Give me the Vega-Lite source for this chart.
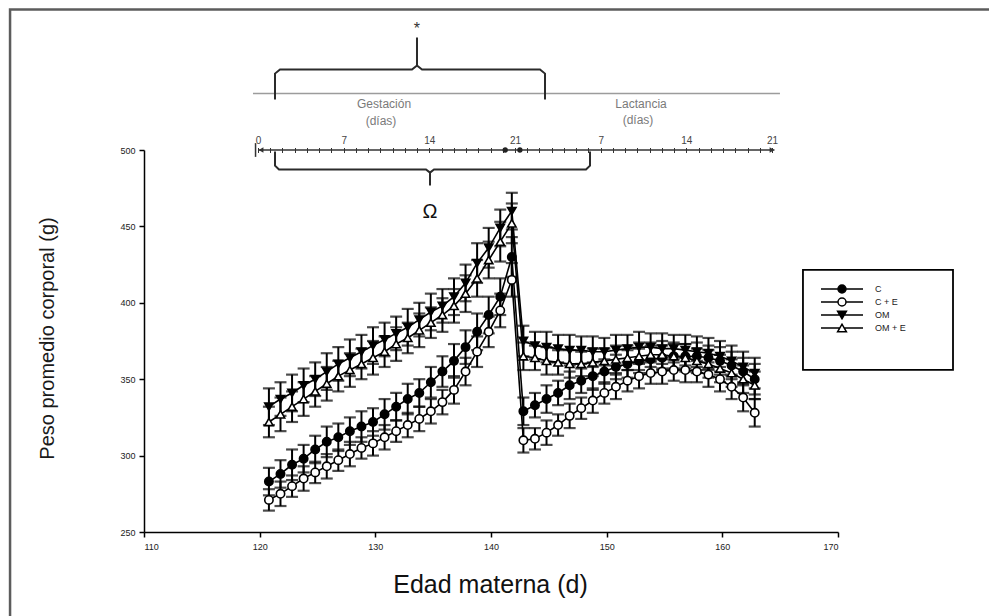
{
  "$schema": "https://vega.github.io/schema/vega-lite/v6.json",
  "autosize": {"type": "none"},
  "width": 694,
  "height": 382,
  "padding": {"left": 144, "top": 150, "right": 151, "bottom": 84},
  "background": "white",
  "config": {
    "view": {"stroke": null},
    "font": "Liberation Sans",
    "axis": {"grid": false}
  },
  "datasets": {
    "weights": [
      {"g":"C","t":120.8,"w":283,"e":9},{"g":"C","t":121.8,"w":288,"e":9},{"g":"C","t":122.8,"w":294,"e":10},{"g":"C","t":123.8,"w":298,"e":9},
      {"g":"C","t":124.8,"w":304,"e":9},{"g":"C","t":125.8,"w":309,"e":10},{"g":"C","t":126.8,"w":312,"e":9},{"g":"C","t":127.8,"w":316,"e":9},
      {"g":"C","t":128.8,"w":319,"e":10},{"g":"C","t":129.8,"w":322,"e":9},{"g":"C","t":130.8,"w":327,"e":10},{"g":"C","t":131.8,"w":332,"e":9},
      {"g":"C","t":132.8,"w":337,"e":10},{"g":"C","t":133.8,"w":341,"e":9},{"g":"C","t":134.8,"w":348,"e":10},{"g":"C","t":135.8,"w":355,"e":10},
      {"g":"C","t":136.8,"w":362,"e":11},{"g":"C","t":137.8,"w":371,"e":11},{"g":"C","t":138.8,"w":381,"e":12},{"g":"C","t":139.8,"w":392,"e":12},
      {"g":"C","t":140.8,"w":404,"e":12},{"g":"C","t":141.8,"w":430,"e":13},
      {"g":"C","t":142.8,"w":329,"e":9},{"g":"C","t":143.8,"w":333,"e":8},{"g":"C","t":144.8,"w":337,"e":9},{"g":"C","t":145.8,"w":341,"e":8},
      {"g":"C","t":146.8,"w":346,"e":9},{"g":"C","t":147.8,"w":349,"e":8},{"g":"C","t":148.8,"w":352,"e":9},{"g":"C","t":149.8,"w":355,"e":8},
      {"g":"C","t":150.8,"w":358,"e":8},{"g":"C","t":151.8,"w":360,"e":9},{"g":"C","t":152.8,"w":362,"e":8},{"g":"C","t":153.8,"w":363,"e":9},
      {"g":"C","t":154.8,"w":364,"e":8},{"g":"C","t":155.8,"w":365,"e":9},{"g":"C","t":156.8,"w":365,"e":8},{"g":"C","t":157.8,"w":365,"e":9},
      {"g":"C","t":158.8,"w":364,"e":8},{"g":"C","t":159.8,"w":362,"e":9},{"g":"C","t":160.8,"w":359,"e":9},{"g":"C","t":161.8,"w":355,"e":9},
      {"g":"C","t":162.8,"w":350,"e":10},

      {"g":"C + E","t":120.8,"w":271,"e":7},{"g":"C + E","t":121.8,"w":275,"e":8},{"g":"C + E","t":122.8,"w":280,"e":7},{"g":"C + E","t":123.8,"w":285,"e":8},
      {"g":"C + E","t":124.8,"w":289,"e":7},{"g":"C + E","t":125.8,"w":293,"e":8},{"g":"C + E","t":126.8,"w":297,"e":7},{"g":"C + E","t":127.8,"w":301,"e":8},
      {"g":"C + E","t":128.8,"w":305,"e":7},{"g":"C + E","t":129.8,"w":308,"e":8},{"g":"C + E","t":130.8,"w":312,"e":8},{"g":"C + E","t":131.8,"w":316,"e":7},
      {"g":"C + E","t":132.8,"w":320,"e":8},{"g":"C + E","t":133.8,"w":324,"e":8},{"g":"C + E","t":134.8,"w":329,"e":8},{"g":"C + E","t":135.8,"w":335,"e":8},
      {"g":"C + E","t":136.8,"w":343,"e":9},{"g":"C + E","t":137.8,"w":355,"e":9},{"g":"C + E","t":138.8,"w":368,"e":10},{"g":"C + E","t":139.8,"w":381,"e":10},
      {"g":"C + E","t":140.8,"w":395,"e":11},{"g":"C + E","t":141.8,"w":415,"e":11},
      {"g":"C + E","t":142.8,"w":310,"e":8},{"g":"C + E","t":143.8,"w":311,"e":7},{"g":"C + E","t":144.8,"w":315,"e":8},{"g":"C + E","t":145.8,"w":320,"e":7},
      {"g":"C + E","t":146.8,"w":326,"e":8},{"g":"C + E","t":147.8,"w":331,"e":7},{"g":"C + E","t":148.8,"w":336,"e":8},{"g":"C + E","t":149.8,"w":341,"e":7},
      {"g":"C + E","t":150.8,"w":345,"e":8},{"g":"C + E","t":151.8,"w":349,"e":7},{"g":"C + E","t":152.8,"w":352,"e":8},{"g":"C + E","t":153.8,"w":354,"e":7},
      {"g":"C + E","t":154.8,"w":355,"e":8},{"g":"C + E","t":155.8,"w":356,"e":7},{"g":"C + E","t":156.8,"w":356,"e":8},{"g":"C + E","t":157.8,"w":355,"e":7},
      {"g":"C + E","t":158.8,"w":353,"e":8},{"g":"C + E","t":159.8,"w":350,"e":8},{"g":"C + E","t":160.8,"w":345,"e":8},{"g":"C + E","t":161.8,"w":338,"e":9},
      {"g":"C + E","t":162.8,"w":328,"e":9},

      {"g":"OM","t":120.8,"w":332,"e":12},{"g":"OM","t":121.8,"w":337,"e":11},{"g":"OM","t":122.8,"w":341,"e":12},{"g":"OM","t":123.8,"w":346,"e":11},
      {"g":"OM","t":124.8,"w":350,"e":11},{"g":"OM","t":125.8,"w":355,"e":12},{"g":"OM","t":126.8,"w":360,"e":11},{"g":"OM","t":127.8,"w":364,"e":12},
      {"g":"OM","t":128.8,"w":368,"e":11},{"g":"OM","t":129.8,"w":372,"e":12},{"g":"OM","t":130.8,"w":376,"e":11},{"g":"OM","t":131.8,"w":380,"e":11},
      {"g":"OM","t":132.8,"w":384,"e":12},{"g":"OM","t":133.8,"w":389,"e":11},{"g":"OM","t":134.8,"w":394,"e":12},{"g":"OM","t":135.8,"w":398,"e":11},
      {"g":"OM","t":136.8,"w":404,"e":12},{"g":"OM","t":137.8,"w":413,"e":12},{"g":"OM","t":138.8,"w":426,"e":13},{"g":"OM","t":139.8,"w":436,"e":13},
      {"g":"OM","t":140.8,"w":449,"e":12},{"g":"OM","t":141.8,"w":460,"e":12},
      {"g":"OM","t":142.8,"w":375,"e":10},{"g":"OM","t":143.8,"w":372,"e":9},{"g":"OM","t":144.8,"w":371,"e":10},{"g":"OM","t":145.8,"w":370,"e":9},
      {"g":"OM","t":146.8,"w":369,"e":10},{"g":"OM","t":147.8,"w":369,"e":9},{"g":"OM","t":148.8,"w":368,"e":10},{"g":"OM","t":149.8,"w":368,"e":9},
      {"g":"OM","t":150.8,"w":369,"e":10},{"g":"OM","t":151.8,"w":370,"e":9},{"g":"OM","t":152.8,"w":371,"e":10},{"g":"OM","t":153.8,"w":371,"e":9},
      {"g":"OM","t":154.8,"w":370,"e":10},{"g":"OM","t":155.8,"w":370,"e":9},{"g":"OM","t":156.8,"w":369,"e":10},{"g":"OM","t":157.8,"w":368,"e":10},
      {"g":"OM","t":158.8,"w":367,"e":10},{"g":"OM","t":159.8,"w":365,"e":10},{"g":"OM","t":160.8,"w":362,"e":10},{"g":"OM","t":161.8,"w":358,"e":10},
      {"g":"OM","t":162.8,"w":354,"e":10},

      {"g":"OM + E","t":120.8,"w":322,"e":10},{"g":"OM + E","t":121.8,"w":327,"e":11},{"g":"OM + E","t":122.8,"w":332,"e":10},{"g":"OM + E","t":123.8,"w":337,"e":11},
      {"g":"OM + E","t":124.8,"w":342,"e":10},{"g":"OM + E","t":125.8,"w":347,"e":11},{"g":"OM + E","t":126.8,"w":352,"e":10},{"g":"OM + E","t":127.8,"w":356,"e":11},
      {"g":"OM + E","t":128.8,"w":360,"e":10},{"g":"OM + E","t":129.8,"w":364,"e":11},{"g":"OM + E","t":130.8,"w":368,"e":10},{"g":"OM + E","t":131.8,"w":373,"e":11},
      {"g":"OM + E","t":132.8,"w":377,"e":10},{"g":"OM + E","t":133.8,"w":382,"e":11},{"g":"OM + E","t":134.8,"w":387,"e":10},{"g":"OM + E","t":135.8,"w":392,"e":11},
      {"g":"OM + E","t":136.8,"w":398,"e":11},{"g":"OM + E","t":137.8,"w":406,"e":12},{"g":"OM + E","t":138.8,"w":416,"e":12},{"g":"OM + E","t":139.8,"w":428,"e":12},
      {"g":"OM + E","t":140.8,"w":440,"e":13},{"g":"OM + E","t":141.8,"w":452,"e":13},
      {"g":"OM + E","t":142.8,"w":365,"e":9},{"g":"OM + E","t":143.8,"w":364,"e":8},{"g":"OM + E","t":144.8,"w":362,"e":9},{"g":"OM + E","t":145.8,"w":361,"e":8},
      {"g":"OM + E","t":146.8,"w":360,"e":9},{"g":"OM + E","t":147.8,"w":360,"e":8},{"g":"OM + E","t":148.8,"w":361,"e":9},{"g":"OM + E","t":149.8,"w":362,"e":8},
      {"g":"OM + E","t":150.8,"w":363,"e":9},{"g":"OM + E","t":151.8,"w":364,"e":8},{"g":"OM + E","t":152.8,"w":365,"e":9},{"g":"OM + E","t":153.8,"w":366,"e":8},
      {"g":"OM + E","t":154.8,"w":366,"e":9},{"g":"OM + E","t":155.8,"w":365,"e":8},{"g":"OM + E","t":156.8,"w":364,"e":9},{"g":"OM + E","t":157.8,"w":362,"e":8},
      {"g":"OM + E","t":158.8,"w":360,"e":9},{"g":"OM + E","t":159.8,"w":357,"e":9},{"g":"OM + E","t":160.8,"w":354,"e":9},{"g":"OM + E","t":161.8,"w":350,"e":9},
      {"g":"OM + E","t":162.8,"w":346,"e":9}
    ],
    "braces": [
      {"b":"top","k":0,"a":1.389,"y":533.0},{"b":"top","k":1,"a":1.389,"y":550.0},{"b":"top","k":2,"a":1.798,"y":552.7},
      {"b":"top","k":3,"a":12.584,"y":552.7},{"b":"top","k":4,"a":12.992,"y":555.3},{"b":"top","k":5,"a":12.992,"y":573.6},
      {"b":"top","k":6,"a":12.992,"y":555.3},{"b":"top","k":7,"a":13.401,"y":552.7},{"b":"top","k":8,"a":23.043,"y":552.7},
      {"b":"top","k":9,"a":23.452,"y":550.0},{"b":"top","k":10,"a":23.452,"y":533.0},
      {"b":"bottom","k":0,"a":1.389,"y":499.0},{"b":"bottom","k":1,"a":1.389,"y":489.8},{"b":"bottom","k":2,"a":1.716,"y":487.2},
      {"b":"bottom","k":3,"a":13.728,"y":487.2},{"b":"bottom","k":4,"a":14.055,"y":485.2},{"b":"bottom","k":5,"a":14.055,"y":476.7},
      {"b":"bottom","k":6,"a":14.055,"y":485.2},{"b":"bottom","k":7,"a":14.381,"y":487.2},{"b":"bottom","k":8,"a":26.802,"y":487.2},
      {"b":"bottom","k":9,"a":27.129,"y":489.8},{"b":"bottom","k":10,"a":27.129,"y":499.0}
    ]
  },
  "resolve": {"scale": {"x": "independent"}},
  "layer": [
    {
      "encoding": {
        "x": {
          "field": "a", "type": "quantitative",
          "scale": {"domain": [-9.315, 47.393], "nice": false, "zero": false},
          "axis": {
            "orient": "top", "title": null, "domain": false,
            "values": [0,1,2,3,4,5,6,7,8,9,10,11,12,13,14,15,16,17,18,19,20,21,22,23,24,25,26,27,28,29,30,31,32,33,34,35,36,37,38,39,40,41,42],
            "tickSize": 5, "tickColor": "#333333", "tickWidth": 1, "offset": -2.5,
            "labelExpr": "datum.value % 7 == 0 ? '' + (datum.value > 21 ? datum.value - 21 : datum.value) : ''",
            "labelFontSize": 10, "labelColor": "#444444", "labelPadding": 2,
            "labelOverlap": false, "labelFlush": false, "labelBound": false
          }
        },
        "y": {"field": "y", "type": "quantitative", "scale": {"domain": [250, 500], "nice": false, "zero": false}}
      },
      "layer": [
        {
          "data": {"values": [{"a": -20.26, "a2": 62, "y": 592, "y2": 185}]},
          "mark": {"type": "rect", "filled": false, "stroke": "#5c5c5c", "strokeWidth": 2.5},
          "encoding": {"x2": {"field": "a2"}, "y2": {"field": "y2"}}
        },
        {
          "data": {"values": [{"a": 44.53, "a2": 56.79, "y": 421.6, "y2": 356.1}]},
          "mark": {"type": "rect", "fill": "white", "stroke": "black", "strokeWidth": 1.8},
          "encoding": {"x2": {"field": "a2"}, "y2": {"field": "y2"}}
        },
        {
          "data": {"values": [{"a": -0.41, "a2": 42.65, "y": 537}]},
          "mark": {"type": "rule", "color": "#9c9c9c", "strokeWidth": 1.5},
          "encoding": {"x2": {"field": "a2"}}
        },
        {
          "data": {"values": [{"a": 0, "a2": 42.2, "y": 500}]},
          "mark": {"type": "rule", "color": "#333333", "strokeWidth": 1.5},
          "encoding": {"x2": {"field": "a2"}}
        },
        {
          "data": {"values": [{"a": -0.2, "y": 495.5, "y2": 504.5}]},
          "mark": {"type": "rule", "color": "#333333", "strokeWidth": 1.5},
          "encoding": {"y2": {"field": "y2"}}
        },
        {
          "data": {"values": [{"a": 0.25, "y": 500}]},
          "mark": {"type": "point", "shape": "triangle-left", "filled": true, "color": "#333333", "size": 30, "opacity": 1},
          "encoding": {}
        },
        {
          "data": {"values": [{"a": 42.0, "y": 500}]},
          "mark": {"type": "point", "shape": "triangle-right", "filled": true, "color": "#333333", "size": 30, "opacity": 1},
          "encoding": {}
        },
        {
          "data": {"values": [{"a": 20.2, "y": 500}, {"a": 21.4, "y": 500}]},
          "mark": {"type": "point", "shape": "circle", "filled": true, "color": "#222222", "size": 28, "opacity": 1},
          "encoding": {}
        },
        {
          "data": {"name": "braces"},
          "mark": {"type": "line", "color": "#2b2b2b", "strokeWidth": 2},
          "encoding": {"detail": {"field": "b"}, "order": {"field": "k"}}
        },
        {
          "data": {"values": [
            {"a": 10.3, "y": 530.4, "txt": "Gestación"},
            {"a": 10.05, "y": 519.0, "txt": "(días)"},
            {"a": 31.3, "y": 530.4, "txt": "Lactancia"},
            {"a": 31.05, "y": 519.9, "txt": "(días)"}
          ]},
          "mark": {"type": "text", "fontSize": 12, "color": "#7a7a7a", "baseline": "middle", "align": "center"},
          "encoding": {"text": {"field": "txt"}}
        },
        {
          "data": {"values": [{"a": 12.99, "y": 579.0, "txt": "*"}]},
          "mark": {"type": "text", "fontSize": 16, "color": "#333333", "baseline": "middle", "align": "center"},
          "encoding": {"text": {"field": "txt"}}
        },
        {
          "data": {"values": [{"a": 14.05, "y": 459.6, "txt": "Ω"}]},
          "mark": {"type": "text", "fontSize": 20, "color": "#111111", "baseline": "middle", "align": "center"},
          "encoding": {"text": {"field": "txt"}}
        }
      ]
    },
    {
      "data": {"name": "weights"},
      "encoding": {
        "x": {
          "field": "t", "type": "quantitative",
          "scale": {"domain": [110, 170], "nice": false, "zero": false},
          "axis": {
            "values": [110, 120, 130, 140, 150, 160, 170],
            "title": "Edad materna (d)",
            "titleFontSize": 25, "titleFontWeight": "normal", "titleColor": "#111111",
            "titleX": 346, "titleY": 60, "titleBaseline": "alphabetic", "titleAlign": "center",
            "labelFontSize": 9, "labelColor": "#222222", "labelPadding": 5,
            "tickSize": 5, "tickColor": "black", "tickWidth": 1.5,
            "domainColor": "black", "domainWidth": 1.5
          }
        },
        "y": {
          "field": "w", "type": "quantitative",
          "scale": {"domain": [250, 500], "nice": false, "zero": false},
          "axis": {
            "values": [250, 300, 350, 400, 450, 500],
            "title": "Peso promedio corporal (g)",
            "titleFontSize": 20, "titleFontWeight": "normal", "titleColor": "#1a1a1a",
            "titleX": -97, "titleY": 188, "titleBaseline": "middle", "titleAlign": "center", "titleAngle": -90,
            "labelFontSize": 9, "labelColor": "#222222", "labelPadding": 4,
            "tickSize": 5, "tickColor": "black", "tickWidth": 1.5,
            "domainColor": "black", "domainWidth": 1.5
          }
        }
      },
      "layer": [
        {
          "mark": {
            "type": "errorbar",
            "color": "black",
            "ticks": {"size": 12, "thickness": 2.2, "color": "black"},
            "rule": {"strokeWidth": 2, "color": "black"}
          },
          "encoding": {
            "yError": {"field": "e"},
            "detail": {"field": "g"}
          }
        },
        {
          "mark": {"type": "line", "color": "black", "strokeWidth": 1.6},
          "encoding": {"detail": {"field": "g"}}
        },
        {
          "transform": [{"filter": "datum.g == 'C + E'"}],
          "mark": {"type": "point", "shape": "circle", "fill": "white", "stroke": "black", "strokeWidth": 1.6, "size": 70, "opacity": 1}
        },
        {
          "transform": [{"filter": "datum.g == 'C'"}],
          "mark": {"type": "point", "shape": "circle", "fill": "black", "stroke": "black", "strokeWidth": 1.6, "size": 70, "opacity": 1}
        },
        {
          "transform": [{"filter": "datum.g == 'OM + E'"}],
          "mark": {"type": "point", "shape": "triangle-up", "fill": "white", "stroke": "black", "strokeWidth": 1.6, "size": 70, "opacity": 1}
        },
        {
          "transform": [{"filter": "datum.g == 'OM'"}],
          "mark": {"type": "point", "shape": "triangle-down", "fill": "black", "stroke": "black", "strokeWidth": 1.6, "size": 70, "opacity": 1}
        },
        {
          "mark": {"type": "point", "filled": true, "strokeWidth": 1.5, "size": 1764, "opacity": 0},
          "encoding": {
            "fill": {
              "field": "g", "type": "nominal",
              "scale": {"domain": ["C", "C + E", "OM", "OM + E"], "range": ["black", "white", "black", "white"]},
              "legend": {
                "orient": "none", "legendX": 676, "legendY": 132.5,
                "title": null, "padding": 0,
                "clipHeight": 13, "rowPadding": 0, "symbolSize": 1764,
                "symbolStrokeWidth": 1.5, "symbolOpacity": 1,
                "labelFontSize": 9, "labelColor": "#222222", "labelOffset": 11
              }
            },
            "stroke": {
              "field": "g", "type": "nominal",
              "scale": {"domain": ["C", "C + E", "OM", "OM + E"], "range": ["black", "black", "black", "black"]},
              "legend": {
                "orient": "none", "legendX": 676, "legendY": 132.5,
                "title": null, "padding": 0,
                "clipHeight": 13, "rowPadding": 0, "symbolSize": 1764,
                "symbolStrokeWidth": 1.5, "symbolOpacity": 1,
                "labelFontSize": 9, "labelColor": "#222222", "labelOffset": 11
              }
            },
            "shape": {
              "field": "g", "type": "nominal",
              "scale": {
                "domain": ["C", "C + E", "OM", "OM + E"],
                "range": [
                  "M-1,0L-0.19,0M0.19,0L1,0M0.19,0A0.19,0.19 0 1,1 -0.19,0A0.19,0.19 0 1,1 0.19,0Z",
                  "M-1,0L-0.19,0M0.19,0L1,0M0.19,0A0.19,0.19 0 1,1 -0.19,0A0.19,0.19 0 1,1 0.19,0Z",
                  "M-1,0L1,0M-0.21,-0.18L0.21,-0.18L0,0.18Z",
                  "M-1,0L-0.105,0M0.105,0L1,0M-0.21,0.18L0.21,0.18L0,-0.18Z"
                ]
              },
              "legend": {
                "orient": "none", "legendX": 676, "legendY": 132.5,
                "title": null, "padding": 0,
                "clipHeight": 13, "rowPadding": 0, "symbolSize": 1764,
                "symbolStrokeWidth": 1.5, "symbolOpacity": 1,
                "labelFontSize": 9, "labelColor": "#222222", "labelOffset": 11
              }
            }
          }
        }
      ]
    }
  ]
}
